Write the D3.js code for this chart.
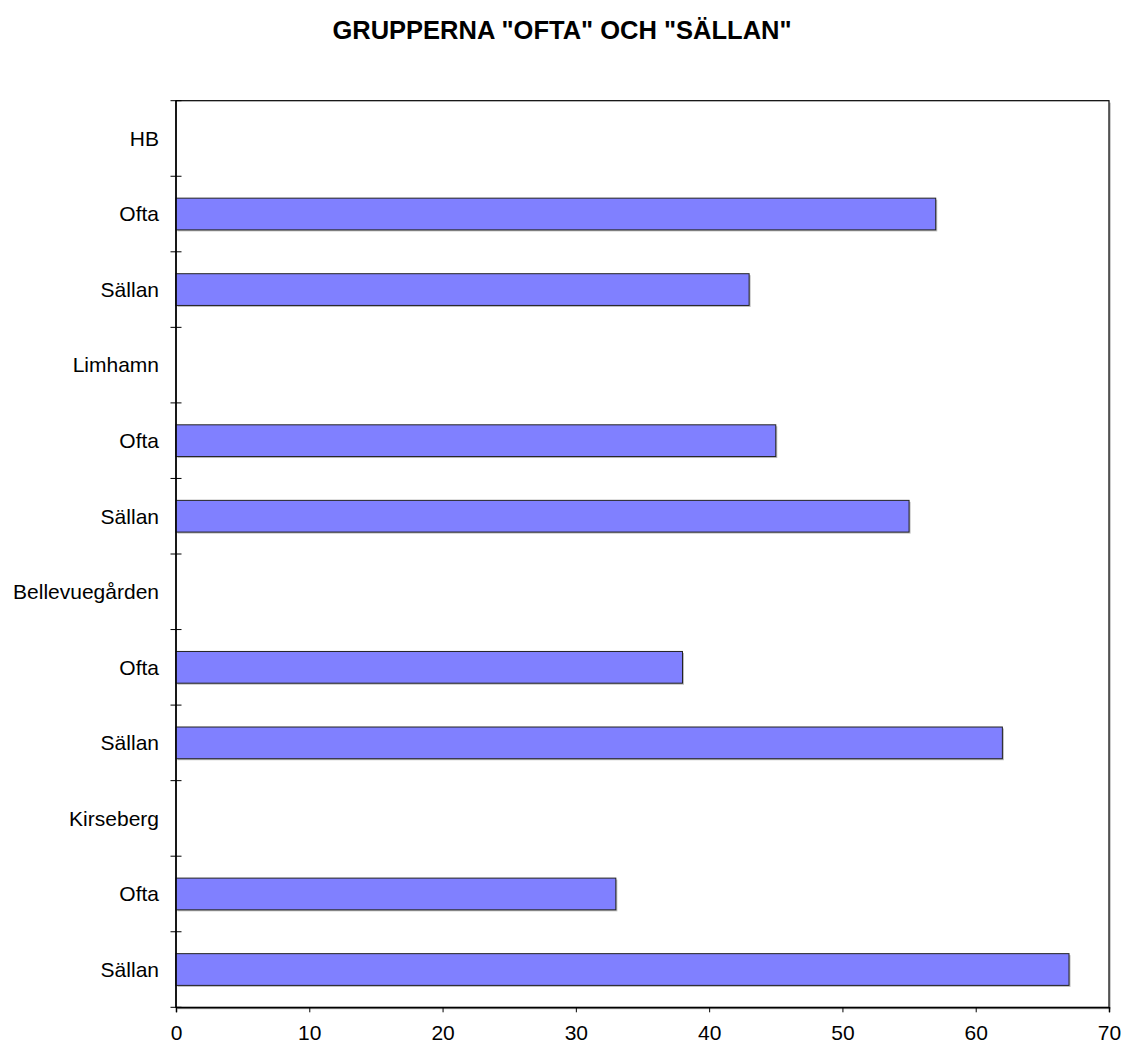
<!DOCTYPE html>
<html>
<head>
<meta charset="utf-8">
<script src="https://cdn.jsdelivr.net/npm/d3@7"></script>
<style>
  body { margin: 0; background: #fff; }
  svg text { font-family: "Liberation Sans", Arial, sans-serif; fill: #000; }
</style>
</head>
<body>
<div id="chart"></div>
<script>
// data, top to bottom
var labels = ["HB", "Ofta", "Sällan", "Limhamn", "Ofta", "Sällan",
              "Bellevuegården", "Ofta", "Sällan", "Kirseberg", "Ofta", "Sällan"];
var values = [null, 57, 43, null, 45, 55, null, 38, 62, null, 33, 67];
var xTicks = [0, 10, 20, 30, 40, 50, 60, 70];
var title = 'GRUPPERNA "OFTA" OCH "SÄLLAN"';

var width = 1122, height = 1045;
var margin = {top: 100.7, right: 13, bottom: 37.7, left: 176};
var innerW = width - margin.left - margin.right;
var innerH = height - margin.top - margin.bottom;

var svg = d3.select("#chart").append("svg")
  .attr("width", width)
  .attr("height", height);

svg.append("text")
  .attr("x", 562)
  .attr("y", 38.5)
  .attr("text-anchor", "middle")
  .style("font-size", "25.5px")
  .style("font-weight", "bold")
  .text(title);

var g = svg.append("g")
  .attr("transform", "translate(" + margin.left + "," + margin.top + ")");

var x = d3.scaleLinear().domain([0, 70]).range([0, innerW]);
var idx = d3.range(labels.length);
var y = d3.scaleBand().domain(idx).range([0, innerH]).paddingInner(0.58).paddingOuter(0.29);
var yb = d3.scaleBand().domain(idx).range([0, innerH]);

// plot frame shadow + frame
g.append("rect")
  .attr("x", 2).attr("y", 2)
  .attr("width", innerW).attr("height", innerH)
  .attr("fill", "#ccc");
g.append("rect")
  .attr("width", innerW).attr("height", innerH)
  .attr("fill", "#fff")
  .attr("stroke", "#000")
  .attr("stroke-width", 1.2);

// bars
var data = idx.filter(function(i) { return values[i] != null; });
g.selectAll(".shadow").data(data).enter().append("rect")
  .attr("class", "shadow")
  .attr("x", 1.5)
  .attr("y", function(i) { return y(i) + 1.5; })
  .attr("width", function(i) { return x(values[i]); })
  .attr("height", y.bandwidth())
  .attr("fill", "#bbb");
g.selectAll(".bar").data(data).enter().append("rect")
  .attr("class", "bar")
  .attr("x", 0)
  .attr("y", function(i) { return y(i); })
  .attr("width", function(i) { return x(values[i]); })
  .attr("height", y.bandwidth())
  .attr("fill", "#8080ff")
  .attr("stroke", "#222")
  .attr("stroke-width", 1);

// y axis: ticks between categories, labels centred in band
var yAxisG = g.append("g");
yAxisG.append("line")
  .attr("x1", 0).attr("x2", 0).attr("y1", 0).attr("y2", innerH)
  .attr("stroke", "#000").attr("stroke-width", 1.5);
yAxisG.selectAll(".yt").data(d3.range(labels.length + 1)).enter().append("line")
  .attr("x1", -5.5).attr("x2", 5.5)
  .attr("y1", function(i) { return i * yb.step(); })
  .attr("y2", function(i) { return i * yb.step(); })
  .attr("stroke", "#000");
yAxisG.selectAll(".yl").data(idx).enter().append("text")
  .attr("x", -17)
  .attr("y", function(i) { return yb(i) + yb.bandwidth() / 2; })
  .attr("dy", "0.35em")
  .attr("text-anchor", "end")
  .style("font-size", "21px")
  .text(function(i) { return labels[i]; });

// x axis
var xAxis = d3.axisBottom(x).tickValues(xTicks).tickSize(5).tickPadding(13).tickFormat(d3.format("d"));
var xg = g.append("g")
  .attr("transform", "translate(0," + innerH + ")")
  .call(xAxis);
xg.select(".domain").attr("stroke", "#000").attr("stroke-width", 1.5);
xg.selectAll(".tick line").attr("stroke", "#000");
xg.selectAll(".tick text")
  .style("font-size", "21px")
  .style("font-family", "'Liberation Sans', Arial, sans-serif");
</script>
</body>
</html>
